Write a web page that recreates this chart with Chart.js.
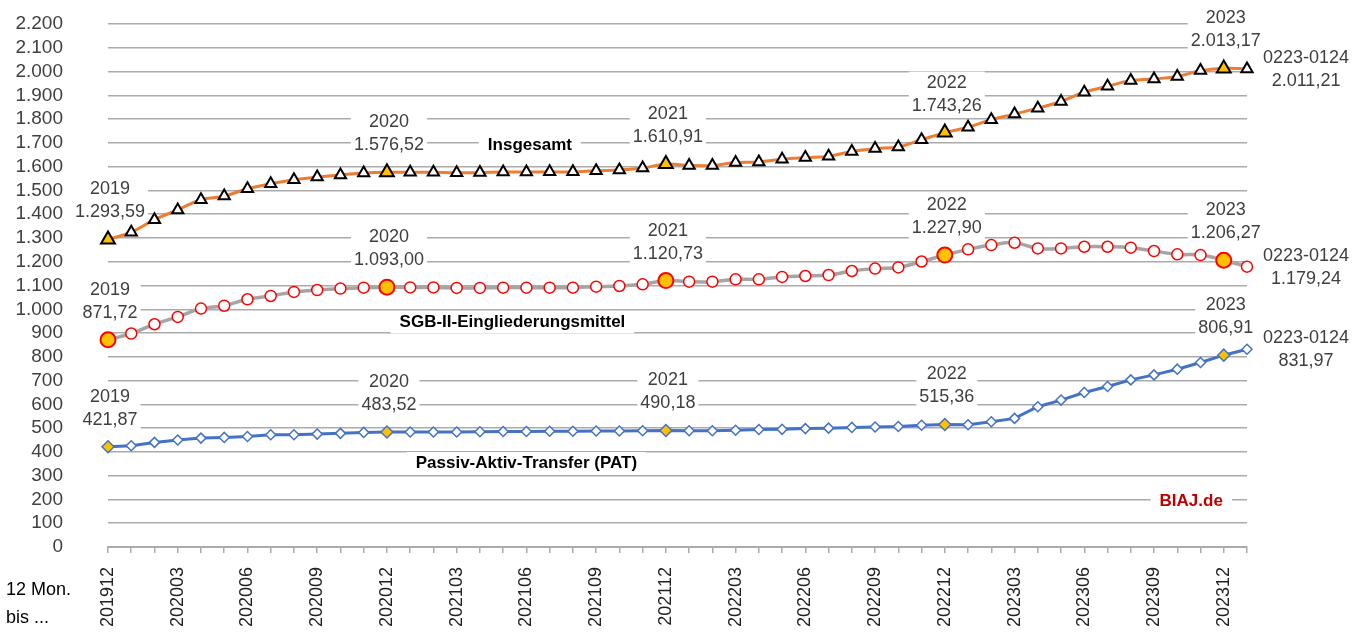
<!DOCTYPE html>
<html>
<head>
<meta charset="utf-8">
<script src="https://cdn.jsdelivr.net/npm/chart.js@4.4.1/dist/chart.umd.min.js"></script>
<style>
  body { margin: 0; background: #fff; }
  #wrap { width: 1369px; height: 639px; }
</style>
</head>
<body>
<div id="wrap"><canvas id="chart"></canvas></div>
<script>
// 12 Monate bis ... (Monat)
const months = [
    '201912', '202001', '202002', '202003', '202004', '202005', '202006', '202007', '202008', '202009', '202010', '202011',
    '202012', '202101', '202102', '202103', '202104', '202105', '202106', '202107', '202108', '202109', '202110', '202111',
    '202112', '202201', '202202', '202203', '202204', '202205', '202206', '202207', '202208', '202209', '202210', '202211',
    '202212', '202301', '202302', '202303', '202304', '202305', '202306', '202307', '202308', '202309', '202310', '202311',
    '202312', '202401'
];
const lastLabel = '0223-0124';

// Insgesamt (Mio. Euro)
const insgesamt = [
    1293.59, 1324, 1377, 1418, 1461, 1476, 1507, 1528, 1545, 1556, 1565, 1573,
    1576.52, 1576, 1576, 1574, 1575, 1577, 1577, 1578, 1578, 1583, 1586, 1594,
    1610.91, 1605, 1605, 1617, 1620, 1631, 1638, 1644, 1664, 1676, 1683, 1713,
    1743.26, 1766, 1797, 1821, 1846, 1874, 1913, 1938, 1962, 1969, 1979, 2004,
    2013.17, 2011.21
];

// SGB-II-Eingliederungsmittel
const sgb = [
    871.72, 898, 937, 968, 1003, 1015, 1042, 1056, 1073, 1081, 1087, 1091,
    1093.00, 1092, 1092, 1090, 1090, 1091, 1091, 1091, 1091, 1095, 1098, 1105,
    1120.73, 1116, 1116, 1126, 1126, 1136, 1140, 1144, 1161, 1171, 1176, 1201,
    1227.90, 1252, 1270, 1280, 1256, 1256, 1263, 1263, 1259, 1245, 1231, 1228,
    1206.27, 1179.24
];

// Passiv-Aktiv-Transfer (PAT)
const pat = [
    421.87, 426, 440, 450, 458, 461, 465, 472, 472, 475, 478, 482,
    483.52, 484, 484, 484, 485, 486, 486, 487, 487, 488, 488, 489,
    490.18, 489, 489, 491, 494, 495, 498, 500, 503, 505, 507, 512,
    515.36, 514, 527, 541, 590, 618, 650, 675, 703, 724, 748, 776,
    806.91, 831.97
];

const FONT = '"Liberation Sans", Arial, sans-serif';
const YELLOW = '#FFC000';

function fmt(v, dec) {
    const parts = v.toFixed(dec).split('.');
    parts[0] = parts[0].replace(/\B(?=(\d{3})+(?!\d))/g, '.');
    return parts.join(',');
}

const isYear = i => months[i].endsWith('12');

// Beschriftung der Jahreswerte und des letzten Werts
const valueLabels = {
    id: 'valueLabels',
    beforeDatasetsDraw(chart) {
        const ctx = chart.ctx;
        ctx.save();
        ctx.font = '18px ' + FONT;
        ctx.textBaseline = 'middle';
        ctx.textAlign = 'center';
        chart.data.datasets.forEach((ds, di) => {
            const pts = chart.getDatasetMeta(di).data;
            const last = ds.data.length - 1;
            ds.data.forEach((v, i) => {
                let lines, cx, y1, y2;
                const p = pts[i];
                if (i === last) {
                    lines = [lastLabel, fmt(v, 2)];
                    const w = Math.max(...lines.map(t => ctx.measureText(t).width));
                    cx = p.x + 16 + w / 2;
                    y1 = p.y - 11;
                    y2 = p.y + 12;
                } else if (isYear(i)) {
                    lines = [months[i].slice(0, 4), fmt(v, 2)];
                    cx = p.x + 2;
                    y1 = p.y - 50;
                    y2 = p.y - 27;
                } else {
                    return;
                }
                const w = Math.max(...lines.map(t => ctx.measureText(t).width));
                ctx.fillStyle = '#fff';
                ctx.fillRect(cx - w / 2 - 3, y1 - 11, w + 6, y2 - y1 + 22);
                ctx.fillStyle = '#404040';
                ctx.fillText(lines[0], cx, y1);
                ctx.fillText(lines[1], cx, y2);
            });
        });
        ctx.restore();
    }
};

// Reihennamen im Diagramm
const seriesNames = [
    { text: 'Insgesamt', idx: 18.15, val: 1690, color: '#000' },
    { text: 'SGB-II-Eingliederungsmittel', idx: 17.4, val: 945, color: '#000' },
    { text: 'Passiv-Aktiv-Transfer (PAT)', idx: 18.0, val: 353, color: '#000' },
    { text: 'BIAJ.de', idx: 46.6, val: 193, color: '#C00000' }
];

const nameLabels = {
    id: 'nameLabels',
    beforeDatasetsDraw(chart) {
        const ctx = chart.ctx;
        const xs = chart.scales.x, ys = chart.scales.y;
        ctx.save();
        ctx.font = 'bold 17px ' + FONT;
        ctx.textBaseline = 'middle';
        ctx.textAlign = 'center';
        seriesNames.forEach(n => {
            const x = xs.getPixelForValue(n.idx);
            const y = ys.getPixelForValue(n.val);
            const w = ctx.measureText(n.text).width;
            ctx.fillStyle = '#fff';
            ctx.fillRect(x - w / 2 - 9, y - 11, w + 18, 22);
            ctx.fillStyle = n.color;
            ctx.fillText(n.text, x, y);
        });
        ctx.restore();
    },
    afterDraw(chart) {
        const ctx = chart.ctx;
        ctx.save();
        ctx.font = '18px ' + FONT;
        ctx.fillStyle = '#000';
        ctx.textBaseline = 'middle';
        ctx.textAlign = 'left';
        ctx.fillText('12 Mon.', 6, 590);
        ctx.fillText('bis ...', 6, 618);
        ctx.restore();
    }
};

const ctx = document.getElementById('chart').getContext('2d');
const chart = new Chart(ctx, {
    type: 'line',
    data: {
        labels: months,
        datasets: [{
            label: 'Insgesamt',
            data: insgesamt,
            borderColor: '#ED7D31',
            borderWidth: 3,
            tension: 0.4,
            pointStyle: 'triangle',
            pointRadius: c => isYear(c.dataIndex) ? 8 : 6.5,
            pointBackgroundColor: c => isYear(c.dataIndex) ? YELLOW : '#fff',
            pointBorderColor: '#000',
            pointBorderWidth: 2
        }, {
            label: 'SGB-II-Eingliederungsmittel',
            data: sgb,
            borderColor: '#A5A5A5',
            borderWidth: 3.5,
            tension: 0.4,
            pointStyle: 'circle',
            pointRadius: c => isYear(c.dataIndex) ? 7.5 : 5.5,
            pointBackgroundColor: c => isYear(c.dataIndex) ? YELLOW : '#fff',
            pointBorderColor: '#FF0000',
            pointBorderWidth: c => isYear(c.dataIndex) ? 2 : 1.5
        }, {
            label: 'Passiv-Aktiv-Transfer (PAT)',
            data: pat,
            borderColor: '#4472C4',
            borderWidth: 3,
            tension: 0,
            pointStyle: 'rectRot',
            pointRadius: c => isYear(c.dataIndex) ? 6 : 5,
            pointBackgroundColor: c => isYear(c.dataIndex) ? YELLOW : '#fff',
            pointBorderColor: '#4472C4',
            pointBorderWidth: 1.5
        }]
    },
    options: {
        responsive: true,
        maintainAspectRatio: false,
        animation: false,
        layout: { padding: { left: 0, right: 122, top: 24, bottom: 0 } },
        plugins: {
            legend: { display: false },
            tooltip: { enabled: false }
        },
        scales: {
            x: {
                offset: false,
                afterFit: s => { s.height = 92; },
                border: { display: true, color: '#ABABAB', width: 2 },
                grid: { drawOnChartArea: false, drawTicks: true, tickLength: 6, color: '#ABABAB', lineWidth: 1.5 },
                ticks: {
                    autoSkip: false,
                    minRotation: 90,
                    maxRotation: 90,
                    padding: 14,
                    color: '#222',
                    font: { family: FONT, size: 18 },
                    callback: (v, i) => i % 3 === 0 ? months[i] : ''
                }
            },
            y: {
                min: 0,
                max: 2200,
                afterFit: s => {
                    s.width = 108;
                    s.paddingTop = 0;
                    s.paddingBottom = 0;
                },
                border: { display: false },
                grid: { drawTicks: false, color: '#ABABAB', lineWidth: 1.5 },
                ticks: {
                    stepSize: 100,
                    maxTicksLimit: 30,
                    autoSkip: false,
                    padding: 45,
                    color: '#404040',
                    font: { family: FONT, size: 19, lineHeight: 1 },
                    callback: v => fmt(v, 0)
                }
            }
        }
    },
    plugins: [valueLabels, nameLabels]
});
</script>
</body>
</html>
